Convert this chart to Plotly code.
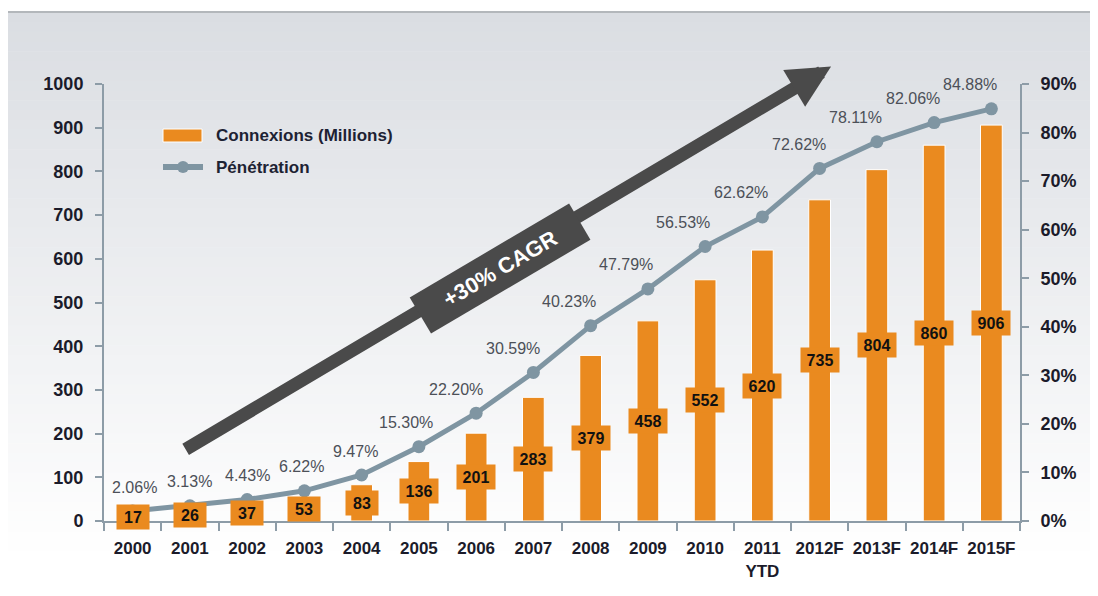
import plotly.graph_objects as go

years = ['2000', '2001', '2002', '2003', '2004', '2005', '2006', '2007', '2008',
         '2009', '2010', '2011<br>YTD', '2012F', '2013F', '2014F', '2015F']
connexions = [17, 26, 37, 53, 83, 136, 201, 283, 379, 458, 552, 620, 735, 804, 860, 906]
penetration = [2.06, 3.13, 4.43, 6.22, 9.47, 15.30, 22.20, 30.59, 40.23, 47.79,
               56.53, 62.62, 72.62, 78.11, 82.06, 84.88]
pct_labels = ['%.2f%%' % p for p in penetration]

ORANGE = '#ea8a1f'
STEEL = '#7f95a2'
AXIS = '#8d9ca7'
SANS = 'Liberation Sans, Arial, sans-serif'
INK = '#1b1b2a'

# the page body adds an 8px offset, so the figure is 8px smaller
OFF = 8
W, H = 1098 - OFF, 596 - OFF
L, T = 104 - OFF, 84 - OFF
R, B = W - (1020 - OFF), H - (521 - OFF)
pw, ph = W - L - R, H - T - B


def px_x(p):
    # page pixel -> paper x
    return (p - OFF - L) / pw


def px_y(p):
    # page pixel -> paper y
    return (H - B - (p - OFF)) / ph


fig = go.Figure()

fig.add_trace(go.Bar(
    x=years, y=connexions, name='Connexions (Millions)',
    marker=dict(color=ORANGE, line=dict(color='white', width=1)),
    width=0.38, hoverinfo='skip', showlegend=False,
))

fig.add_trace(go.Scatter(
    x=years, y=penetration, name='Pénétration', yaxis='y2',
    mode='lines+markers',
    line=dict(color=STEEL, width=5),
    marker=dict(color=STEEL, size=13),
    showlegend=False,
))

# gradient background made of thin bands
shapes = []
n = 60
top_px, bot_px = 12, 600
c0, c1 = (218, 221, 226), (255, 255, 255)
for i in range(n):
    y0 = top_px + (bot_px - top_px) * i / n
    y1 = top_px + (bot_px - top_px) * (i + 1) / n
    f = min(1.0, (i + 0.5) / n * 1.08)
    col = 'rgb(%d,%d,%d)' % tuple(round(a + (b - a) * f) for a, b in zip(c0, c1))
    shapes.append(dict(type='rect', xref='paper', yref='paper', layer='below',
                       x0=px_x(5), x1=px_x(1110), y0=px_y(y1 + 0.5), y1=px_y(y0),
                       fillcolor=col, line=dict(width=0)))
shapes.append(dict(type='line', xref='paper', yref='paper', layer='below',
                   x0=px_x(5), x1=px_x(5), y0=px_y(12), y1=px_y(610),
                   line=dict(color='#b3b7bb', width=2)))
shapes.append(dict(type='line', xref='paper', yref='paper', layer='below',
                   x0=px_x(5), x1=px_x(1110), y0=px_y(12), y1=px_y(12),
                   line=dict(color='#b3b7bb', width=2)))

# hand drawn legend
shapes.append(dict(type='rect', xref='paper', yref='paper',
                   x0=px_x(163), x1=px_x(202), y0=px_y(142), y1=px_y(129),
                   fillcolor=ORANGE, line=dict(color='white', width=1)))
shapes.append(dict(type='line', xref='paper', yref='paper',
                   x0=px_x(163), x1=px_x(203), y0=px_y(167), y1=px_y(167),
                   line=dict(color=STEEL, width=6)))
shapes.append(dict(type='circle', xref='paper', yref='paper',
                   x0=px_x(177), x1=px_x(189), y0=px_y(173), y1=px_y(161),
                   fillcolor=STEEL, line=dict(width=0)))

annotations = []
legend_font = dict(family=SANS, size=17, color='#1d2233', weight='bold')
annotations.append(dict(x=px_x(214), y=px_y(136), xref='paper', yref='paper',
                        xanchor='left', yanchor='middle', text='Connexions (Millions)',
                        showarrow=False, font=legend_font))
annotations.append(dict(x=px_x(214), y=px_y(167), xref='paper', yref='paper',
                        xanchor='left', yanchor='middle', text='Pénétration',
                        showarrow=False, font=legend_font))

# value boxes in the middle of the bars (category axis -> use index)
for i, v in enumerate(connexions):
    annotations.append(dict(
        x=i, y=v / 2, xref='x', yref='y', text=str(v), showarrow=False,
        font=dict(family=SANS, size=16, color='#111111', weight='bold'),
        bgcolor=ORANGE, borderpad=2, width=6 * len(str(v)) + 16, height=20,
    ))

# penetration labels
pct_dx = [2, 0, 0, -3, -6, -13, -20, -20, -22, -22, -22, -21, -21, -21, -21, -21]
for i, (p, t, dx) in enumerate(zip(penetration, pct_labels, pct_dx)):
    annotations.append(dict(
        x=i, y=p, xref='x', yref='y2', text=t, showarrow=False,
        xshift=dx, yshift=24,
        font=dict(family=SANS, size=16, color='#4c5058'),
    ))

# CAGR arrow
annotations.append(dict(
    x=12.2, y=1040, xref='x', yref='y', ax=0.9, ay=162, axref='x', ayref='y',
    text='', showarrow=True, arrowhead=2, arrowsize=0.66, arrowwidth=13,
    arrowcolor='#4a4a4a',
))
annotations.append(dict(
    x=6.42, y=578, xref='x', yref='y', text='+30% CAGR', showarrow=False,
    textangle=-30.5, bgcolor='#4a4a4a', borderpad=8, width=168,
    font=dict(family=SANS, size=22, color='white', weight='bold'),
))

tick_font = dict(family=SANS, size=17, color=INK, weight='bold')

fig.update_layout(
    width=W, height=H,
    margin=dict(l=L, r=R, t=T, b=B),
    paper_bgcolor='white', plot_bgcolor='rgba(0,0,0,0)',
    shapes=shapes, annotations=annotations,
    showlegend=False,
    xaxis=dict(
        type='category', range=[-0.5, 15.5], showline=True, linecolor=AXIS,
        linewidth=2, ticks='outside', tickson='boundaries', ticklen=8,
        tickcolor=AXIS, tickwidth=2, showgrid=False, tickangle=0,
        ticklabelstandoff=11, tickfont=tick_font,
    ),
    yaxis=dict(
        range=[0, 1000], dtick=100, showline=True, linecolor=AXIS, linewidth=2,
        ticks='outside', ticklen=7, tickcolor=AXIS, tickwidth=2, showgrid=False,
        zeroline=False, ticklabelstandoff=8,
        tickfont=dict(family=SANS, size=18, color=INK, weight='bold'),
    ),
    yaxis2=dict(
        overlaying='y', side='right', range=[0, 90], dtick=10, ticksuffix='%',
        showline=True, linecolor=AXIS, linewidth=2, ticks='outside', ticklen=7,
        tickcolor=AXIS, tickwidth=2, showgrid=False, zeroline=False,
        ticklabelstandoff=8,
        tickfont=dict(family=SANS, size=18, color=INK, weight='bold'),
    ),
)

fig.write_html('out.html')
